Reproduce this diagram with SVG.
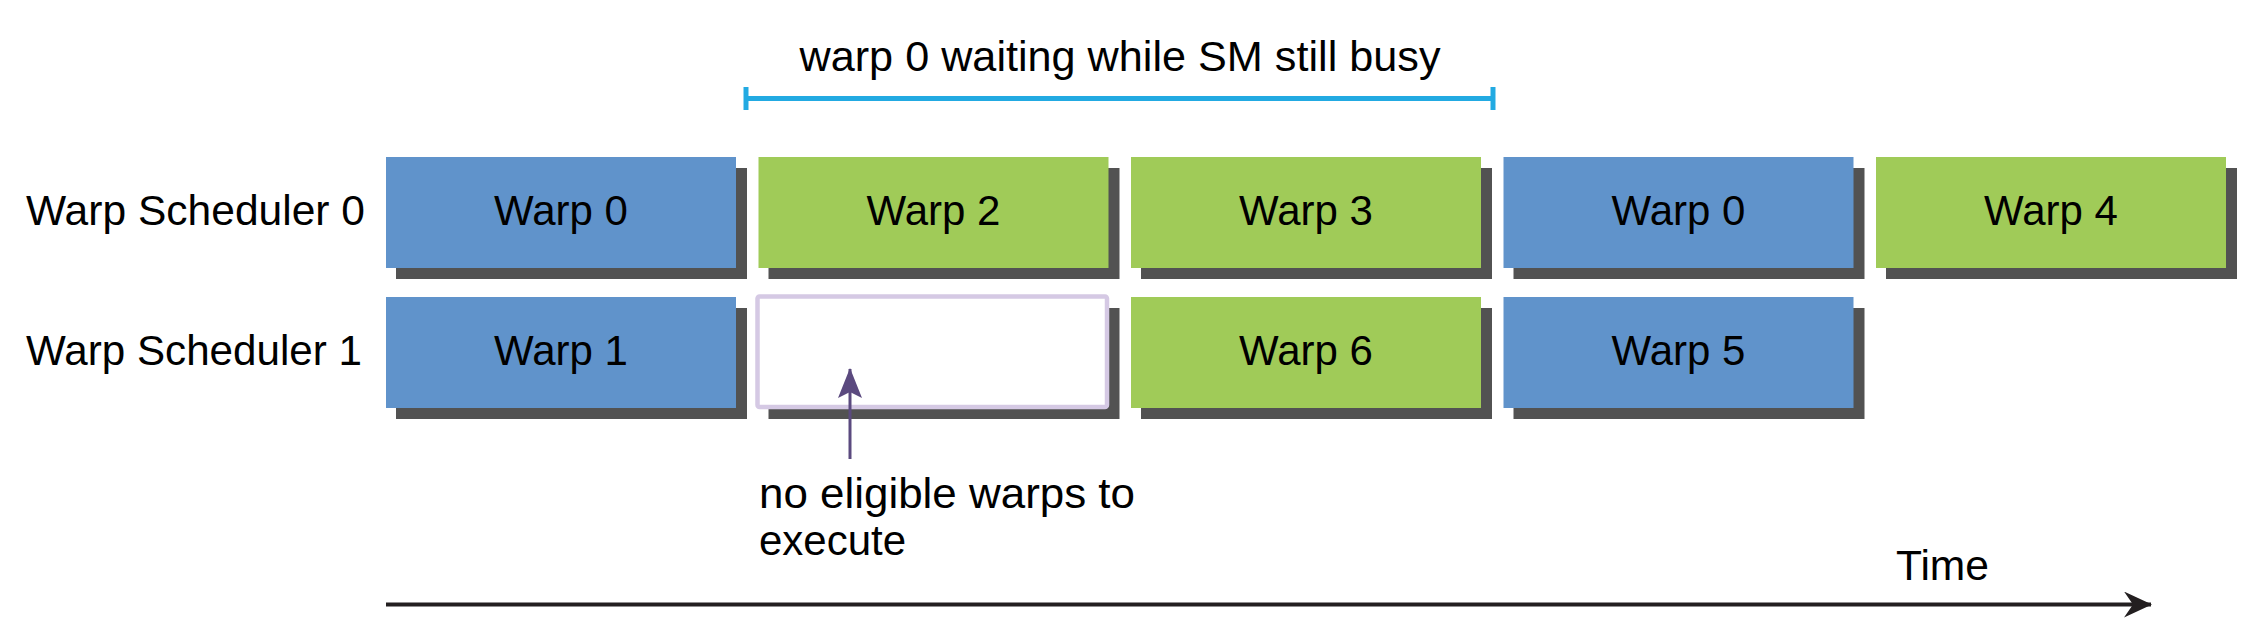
<svg xmlns="http://www.w3.org/2000/svg" width="2261" height="629" viewBox="0 0 2261 629">
<style>
.t{font-family:"Liberation Sans",Arial,sans-serif;font-size:42px;fill:#000}
.c{text-anchor:middle}
.sh{fill:#525252}
.blue{fill:#6093cb}
.green{fill:#a0cb58}
</style>
<defs>
<marker id="ah" viewBox="0 0 28 26" refX="27" refY="13" markerWidth="28" markerHeight="26" markerUnits="userSpaceOnUse" orient="auto">
<path d="M0,0 L28,13 L0,26 L9,13 Z" fill="#231f20"/>
</marker>
<marker id="ap" viewBox="0 0 30 24" refX="29" refY="12" markerWidth="30" markerHeight="24" markerUnits="userSpaceOnUse" orient="auto">
<path d="M30,12 L0,0 L6,12 L0,24 Z" fill="#5b4a7f"/>
</marker>
</defs>
<rect width="2261" height="629" fill="#fff"/>
<text class="t" x="26" y="225" textLength="339" lengthAdjust="spacingAndGlyphs">Warp Scheduler 0</text>
<text class="t" x="26" y="365" textLength="336" lengthAdjust="spacingAndGlyphs">Warp Scheduler 1</text>
<g id="bracket">
<line x1="746" y1="98.5" x2="1493" y2="98.5" stroke="#22aae2" stroke-width="5"/>
<line x1="746" y1="87" x2="746" y2="110" stroke="#22aae2" stroke-width="5"/>
<line x1="1493" y1="87" x2="1493" y2="110" stroke="#22aae2" stroke-width="5"/>
<text class="t c" x="1120" y="71" textLength="641" lengthAdjust="spacingAndGlyphs">warp 0 waiting while SM still busy</text>
</g>
<g id="s0w0"><rect class="sh" x="396" y="168" width="351" height="111"/><rect class="blue" x="386" y="157" width="350" height="111"/><text class="t c" x="561" y="225">Warp 0</text></g>
<g id="s0w2"><rect class="sh" x="768.5" y="168" width="351" height="111"/><rect class="green" x="758.5" y="157" width="350" height="111"/><text class="t c" x="933.5" y="225">Warp 2</text></g>
<g id="s0w3"><rect class="sh" x="1141" y="168" width="351" height="111"/><rect class="green" x="1131" y="157" width="350" height="111"/><text class="t c" x="1306" y="225">Warp 3</text></g>
<g id="s0w0b"><rect class="sh" x="1513.5" y="168" width="351" height="111"/><rect class="blue" x="1503.5" y="157" width="350" height="111"/><text class="t c" x="1678.5" y="225">Warp 0</text></g>
<g id="s0w4"><rect class="sh" x="1886" y="168" width="351" height="111"/><rect class="green" x="1876" y="157" width="350" height="111"/><text class="t c" x="2051" y="225">Warp 4</text></g>
<g id="s1w1"><rect class="sh" x="396" y="308" width="351" height="111"/><rect class="blue" x="386" y="297" width="350" height="111"/><text class="t c" x="561" y="365">Warp 1</text></g>
<g id="s1idle"><rect class="sh" x="768.5" y="308" width="351" height="111"/><rect x="757.5" y="296.5" width="349.5" height="110.5" rx="2" fill="#fff" stroke="#d5c9e4" stroke-width="4.5"/></g>
<g id="s1w6"><rect class="sh" x="1141" y="308" width="351" height="111"/><rect class="green" x="1131" y="297" width="350" height="111"/><text class="t c" x="1306" y="365">Warp 6</text></g>
<g id="s1w5"><rect class="sh" x="1513.5" y="308" width="351" height="111"/><rect class="blue" x="1503.5" y="297" width="350" height="111"/><text class="t c" x="1678.5" y="365">Warp 5</text></g>
<g id="note">
<text class="t" x="759" y="508" textLength="376" lengthAdjust="spacingAndGlyphs">no eligible warps to</text>
<text class="t" x="759" y="555">execute</text>
</g>
<g id="connectors">
<line x1="850" y1="459" x2="850" y2="369" stroke="#5b4a7f" stroke-width="3" marker-end="url(#ap)"/>
<line x1="386" y1="604.5" x2="2151" y2="604.5" stroke="#231f20" stroke-width="4" marker-end="url(#ah)"/>
</g>
<text id="time" class="t" x="1896" y="580" textLength="93" lengthAdjust="spacingAndGlyphs">Time</text>
</svg>
